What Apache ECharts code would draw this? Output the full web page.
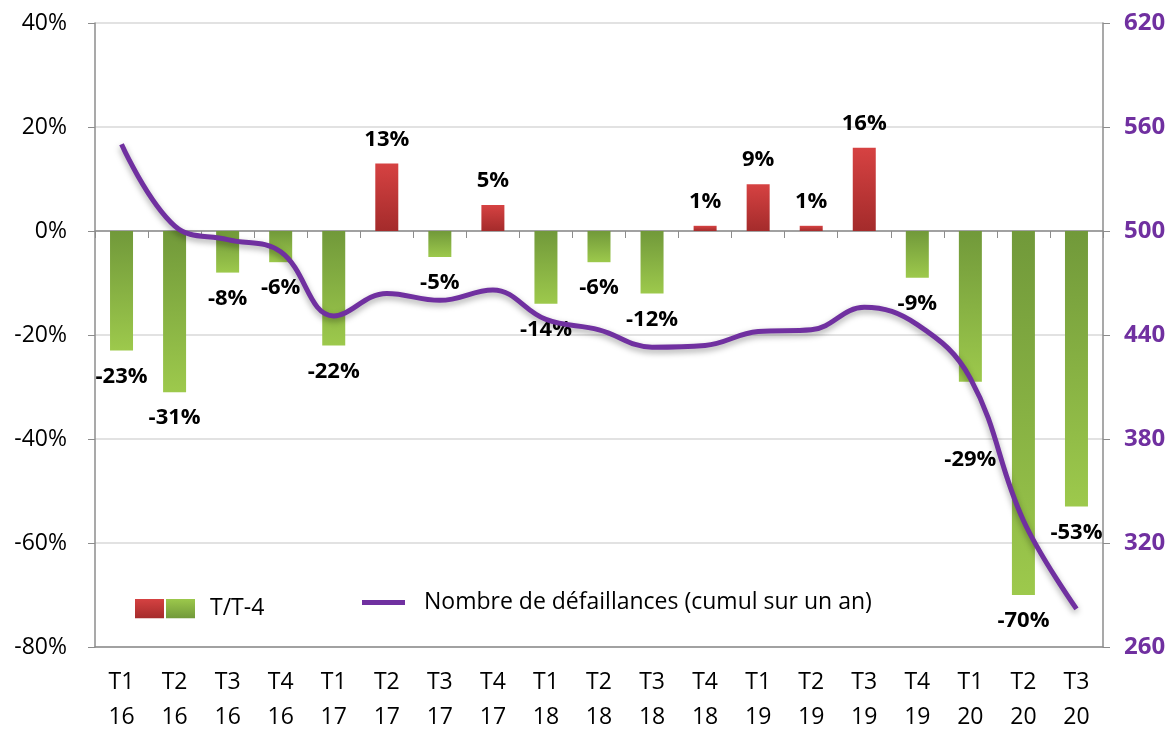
<!DOCTYPE html>
<html>
<head>
<meta charset="utf-8">
<script src="https://cdn.jsdelivr.net/npm/echarts@6/dist/echarts.min.js"></script>
<style>
  html, body { margin: 0; padding: 0; background: #fff; }
  #main { width: 1175px; height: 735px; }
</style>
</head>
<body>
<div id="main"></div>
<script>
// trimestres
var quarters = ['T1', 'T2', 'T3', 'T4', 'T1', 'T2', 'T3', 'T4', 'T1', 'T2', 'T3', 'T4', 'T1', 'T2', 'T3', 'T4', 'T1', 'T2', 'T3']
var years = ['16', '16', '16', '16', '17', '17', '17', '17', '18', '18', '18', '18', '19', '19', '19', '19', '20', '20', '20']
// T/T-4 en %
var variation = [-23, -31, -8, -6, -22, 13, -5, 5, -14, -6, -12, 1, 9, 1, 16, -9, -29, -70, -53]
// nombre de défaillances (cumul sur un an)
var defaillances = [550, 503, 495, 488, 451, 464, 460, 466, 449, 443, 433, 434, 442, 443, 456, 446, 415, 333, 282]

var categories = quarters.map(function (q, i) { return q + '\n' + years[i] })

var font = '"Open Sans", "Noto Sans", sans-serif'
var greenGrad = new echarts.graphic.LinearGradient(0, 0, 0, 1, [
  { offset: 0, color: '#71993a' }, { offset: 1, color: '#9dc94c' }
])
var redGrad = new echarts.graphic.LinearGradient(0, 0, 0, 1, [
  { offset: 0, color: '#d64242' }, { offset: 1, color: '#a42b2b' }
])

var barData = variation.map(function (v, i) {
  var neg = v < 0
  var item = {
    value: v,
    itemStyle: { color: neg ? greenGrad : redGrad },
    label: { position: neg ? 'bottom' : 'top', distance: neg ? 15 : 13 }
  }
  // étiquette -29% décalée sous la courbe
  if (i === 16) item.label.offset = [0, 52]
  return item
})

var legendSvg = "<svg xmlns='http://www.w3.org/2000/svg' width='60' height='20'>" +
  "<defs><linearGradient id='r' x1='0' y1='0' x2='0' y2='1'><stop offset='0' stop-color='#d64242'/><stop offset='1' stop-color='#a42b2b'/></linearGradient>" +
  "<linearGradient id='g' x1='0' y1='0' x2='0' y2='1'><stop offset='0' stop-color='#9dc94c'/><stop offset='1' stop-color='#71993a'/></linearGradient></defs>" +
  "<rect x='0' y='0' width='29' height='20' fill='url(#r)'/><rect x='31' y='0' width='29' height='20' fill='url(#g)'/></svg>"

var chart = echarts.init(document.getElementById('main'))
var option = {
  animation: false,
  textStyle: { fontFamily: font },
  grid: { left: 95, right: 72, top: 23, bottom: 81 },
  legend: [
    {
      left: 130, top: 592,
      data: ['T/T-4'],
      icon: 'image://data:image/svg+xml;charset=utf-8,' + encodeURIComponent(legendSvg),
      itemWidth: 60, itemHeight: 20,
      textStyle: { fontSize: 23, color: '#000', fontFamily: font, padding: [0, 0, 0, 10] }
    },
    {
      left: 357, top: 586,
      data: ['Nombre de défaillances (cumul sur un an)'],
      icon: 'rect',
      itemWidth: 43, itemHeight: 5,
      textStyle: { fontSize: 23, color: '#000', fontFamily: font, padding: [0, 0, 0, 14] }
    }
  ],
  xAxis: [
    {
      type: 'category',
      data: categories,
      position: 'top',
      axisLine: { onZero: true, onZeroAxisIndex: 0, lineStyle: { color: '#8c8c8c', width: 1.5 } },
      axisTick: { show: true, inside: true, length: 7, lineStyle: { color: '#8c8c8c' } },
      axisLabel: { show: false },
      splitLine: { show: false }
    },
    {
      type: 'category',
      data: categories,
      position: 'bottom',
      axisLine: { onZero: false, lineStyle: { color: '#8c8c8c', width: 1.5 } },
      axisTick: { show: false },
      axisLabel: { interval: 0, fontSize: 23, lineHeight: 35, color: '#000', margin: 18, fontFamily: font },
      splitLine: { show: false }
    }
  ],
  yAxis: [
    {
      type: 'value',
      min: -80, max: 40, interval: 20,
      axisLine: { show: true, lineStyle: { color: '#8c8c8c', width: 1.5 } },
      axisTick: { show: true, length: 7, lineStyle: { color: '#8c8c8c' } },
      axisLabel: { formatter: '{value}%', fontSize: 23, color: '#000', margin: 28, fontFamily: font },
      splitLine: { lineStyle: { color: '#d9d9d9', width: 1.5 } }
    },
    {
      type: 'value',
      min: 260, max: 620,
      alignTicks: true,
      position: 'right',
      axisLine: { show: true, lineStyle: { color: '#8c8c8c', width: 1.5 } },
      axisTick: { show: true, length: 7, lineStyle: { color: '#8c8c8c' } },
      axisLabel: { fontSize: 24, color: '#7030a0', fontWeight: 700, margin: 21, fontFamily: font },
      splitLine: { show: false }
    }
  ],
  series: [
    {
      name: 'T/T-4',
      type: 'bar',
      xAxisIndex: 0,
      yAxisIndex: 0,
      barWidth: 23,
      color: '#9dc94c',
      data: barData,
      label: {
        show: true,
        formatter: '{c}%',
        fontSize: 22,
        fontWeight: 700,
        color: '#000',
        fontFamily: font
      }
    },
    {
      name: 'Nombre de défaillances (cumul sur un an)',
      type: 'line',
      xAxisIndex: 0,
      yAxisIndex: 1,
      smooth: 0.4,
      symbol: 'none',
      color: '#7030a0',
      lineStyle: {
        color: '#7030a0', width: 5,
        shadowColor: 'rgba(0,0,0,0.35)', shadowBlur: 6, shadowOffsetY: 3
      },
      data: defaillances,
      z: 3
    }
  ]
}
chart.setOption(option)
</script>
</body>
</html>
